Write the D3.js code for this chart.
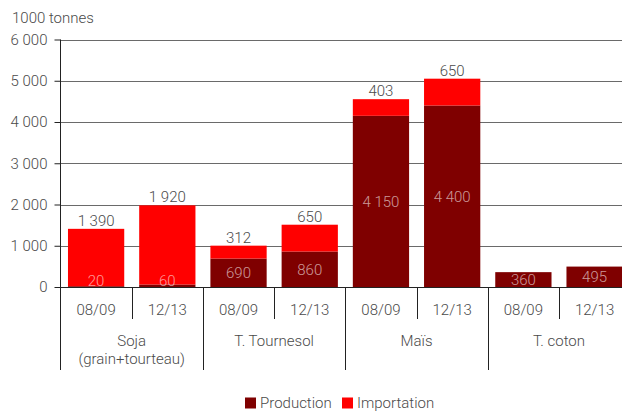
<!DOCTYPE html>
<html><head><meta charset="utf-8">
<script src="https://cdn.jsdelivr.net/npm/d3@7"></script>
<style>
body{margin:0;background:#fff;}
text{font-family:Roboto,"Liberation Sans",sans-serif;font-weight:300;}
</style></head>
<body>
<svg id="c" width="622" height="412"></svg>
<script>
const categories = ["Soja", "T. Tournesol", "Maïs", "T. coton"];
const categorySub = ["(grain+tourteau)", "", "", ""];
const periods = ["08/09", "12/13"];
const production = [20, 60, 690, 860, 4150, 4400, 360, 495];
const importation = [1390, 1920, 312, 650, 403, 650, 0, 0];
const yTicks = [0, 1000, 2000, 3000, 4000, 5000, 6000];
const seriesNames = ["Production", "Importation"];
const colors = ["#7f0000", "#ff0000"];

const svg = d3.select("#c");
const txt = "#4a4a4a";
const loc = d3.formatLocale({decimal: ",", thousands: " ", grouping: [3], currency: ["", ""]});
const fmt = loc.format(",");

const bars = [];
categories.forEach((c, ci) => periods.forEach((p, pi) => {
  const i = ci * periods.length + pi;
  bars.push({i, c, ci, p, prod: production[i], imp: importation[i]});
}));

const x0 = 60.5, x1 = 630.2, yBase = 287, yTop = 39.5;
const x = d3.scaleBand().domain(bars.map(d => d.i)).range([x0, x1]).paddingInner(0.21).paddingOuter(0.105);
const y = d3.scaleLinear().domain([0, 6000]).range([yBase, yTop]);
const step = x.step();

// gridlines
svg.append("g").selectAll("line").data(yTicks.filter(t => t > 0)).join("line")
  .attr("x1", x0).attr("x2", 622).attr("y1", d => Math.round(y(d)) + 0.5).attr("y2", d => Math.round(y(d)) + 0.5)
  .attr("stroke", "#6a6a6a").attr("stroke-width", 1.2);

// bars
const g = svg.append("g");
g.selectAll("rect.p").data(bars).join("rect").attr("class", "p")
  .attr("x", d => x(d.i)).attr("width", x.bandwidth())
  .attr("y", d => y(d.prod)).attr("height", d => yBase - y(d.prod)).attr("fill", colors[0]);
g.selectAll("rect.m").data(bars.filter(d => d.imp > 0)).join("rect").attr("class", "m")
  .attr("x", d => x(d.i)).attr("width", x.bandwidth())
  .attr("y", d => y(d.prod + d.imp)).attr("height", d => y(d.prod) - y(d.prod + d.imp)).attr("fill", colors[1]);

// labels
g.selectAll("text.m").data(bars.filter(d => d.imp > 0)).join("text").attr("class", "m")
  .attr("x", d => x(d.i) + x.bandwidth() / 2).attr("y", d => y(d.prod + d.imp) - 3)
  .attr("text-anchor", "middle").attr("font-size", 15).attr("fill", txt).text(d => fmt(d.imp));
g.selectAll("text.p").data(bars).join("text").attr("class", "p")
  .attr("x", d => x(d.i) + x.bandwidth() / 2)
  .attr("y", d => Math.min((y(d.prod) + yBase) / 2, yBase - 6.5))
  .attr("dy", "0.36em")
  .attr("text-anchor", "middle").attr("font-size", 15).attr("fill", "#fff").attr("fill-opacity", 0.6)
  .text(d => fmt(d.prod));

// y axis
const ya = svg.append("g").attr("transform", `translate(${x0},0)`)
  .call(d3.axisLeft(y).tickValues(yTicks).tickFormat(fmt).tickSize(6).tickPadding(7));
ya.select(".domain").remove();
ya.selectAll(".tick line").attr("stroke", "#222");
ya.selectAll(".tick text").attr("font-size", 15).attr("fill", txt).attr("font-family", null);
svg.append("line").attr("x1", x0).attr("x2", x0).attr("y1", yTop).attr("y2", 370).attr("stroke", "#222");

// x axis line
svg.append("line").attr("x1", x0).attr("x2", 622).attr("y1", yBase + 0.5).attr("y2", yBase + 0.5).attr("stroke", "#222").attr("stroke-width", 1.2);

// separators
const seps = d3.range(1, bars.length).map(k => ({k, xx: x0 + k * step}));
svg.append("g").selectAll("line").data(seps).join("line")
  .attr("x1", d => Math.round(d.xx) + 0.5).attr("x2", d => Math.round(d.xx) + 0.5)
  .attr("y1", yBase).attr("y2", d => d.k % periods.length === 0 ? 370 : 319)
  .attr("stroke", "#222");

// period labels
svg.append("g").selectAll("text").data(bars).join("text")
  .attr("x", d => x(d.i) + x.bandwidth() / 2).attr("y", 315)
  .attr("text-anchor", "middle").attr("font-size", 15).attr("fill", txt).text(d => d.p);

// category labels
const cg = svg.append("g");
categories.forEach((c, ci) => {
  const cx = x0 + (ci + 0.5) * step * periods.length;
  cg.append("text").attr("x", cx).attr("y", 346).attr("text-anchor", "middle")
    .attr("font-size", 15).attr("fill", txt).text(c);
  if (categorySub[ci]) cg.append("text").attr("x", cx).attr("y", 364).attr("text-anchor", "middle")
    .attr("font-size", 15).attr("fill", txt).text(categorySub[ci]);
});

// title
svg.append("text").attr("x", 12).attr("y", 23).attr("font-size", 15).attr("fill", txt).text("1000 tonnes");

// legend
const lg = svg.append("g");
const lx = [245, 342];
seriesNames.forEach((s, i) => {
  lg.append("rect").attr("x", lx[i]).attr("y", 397.5).attr("width", 11).attr("height", 11).attr("fill", colors[i]);
  lg.append("text").attr("x", lx[i] + 15).attr("y", 408).attr("font-size", 15).attr("fill", txt).text(s);
});
</script>
</body></html>
